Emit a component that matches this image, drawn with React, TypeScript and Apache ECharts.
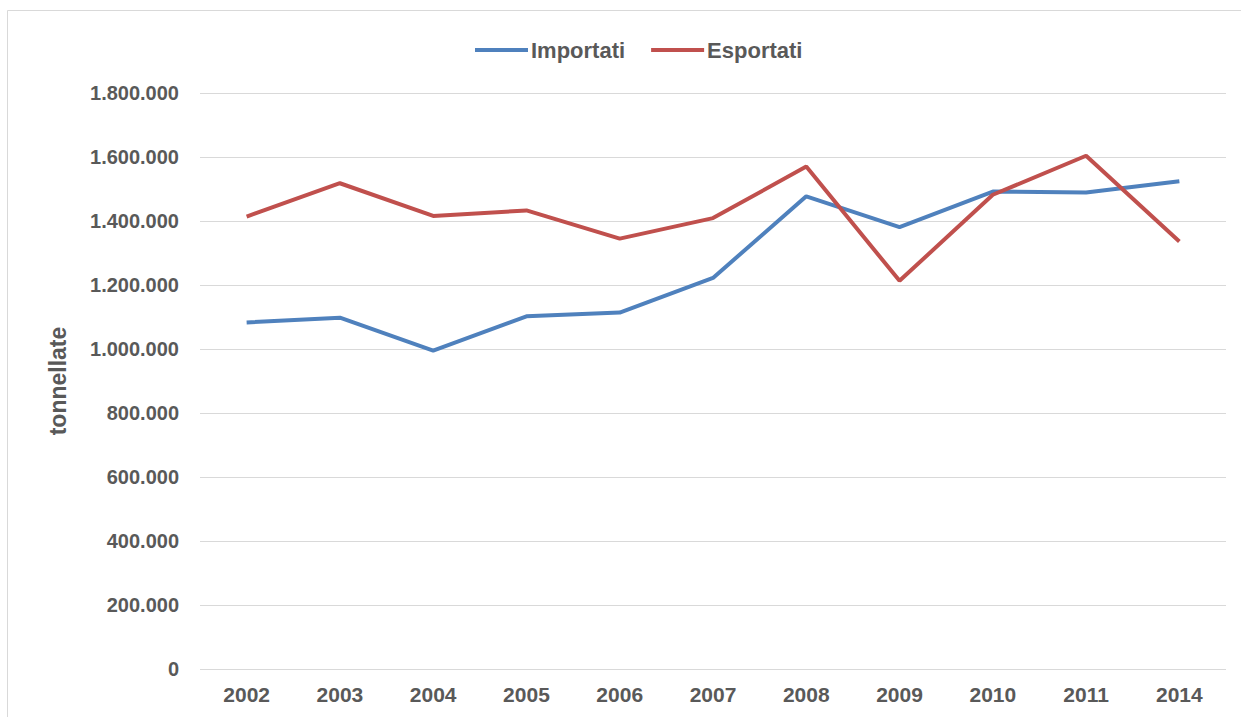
import React, { useEffect, useRef } from "react";
import * as echarts from "echarts";

const years = ["2002", "2003", "2004", "2005", "2006", "2007", "2008", "2009", "2010", "2011", "2014"];
const importati = [1083000, 1098000, 995000, 1102000, 1114000, 1222000, 1477000, 1381000, 1492000, 1489000, 1524000];
const esportati = [1414000, 1518000, 1416000, 1433000, 1345000, 1409000, 1570000, 1213000, 1482000, 1604000, 1336000];
const seriesNames = ["Importati", "Esportati"];
const yAxisName = "tonnellate";

const fmt = (v: number) => String(v).replace(/\B(?=(\d{3})+(?!\d))/g, ".");

export default function App() {
  const ref = useRef<HTMLDivElement>(null);
  useEffect(() => {
    if (!ref.current) return;
    const chart = echarts.init(ref.current, null, { renderer: "svg" });
    const font = "Liberation Sans, Arial, sans-serif";
    chart.setOption({
      animation: false,
      backgroundColor: "#ffffff",
      textStyle: { fontFamily: font },
      graphic: [
        {
          type: "rect",
          shape: { x: 7.5, y: 10.5, width: 1245, height: 720 },
          style: { fill: "none", stroke: "#d9d9d9", lineWidth: 1 },
          silent: true,
        },
      ],
      legend: {
        top: 34,
        left: 470,
        icon: "rect",
        itemWidth: 53,
        itemHeight: 4,
        itemGap: 26,
        textStyle: { fontSize: 22, fontWeight: "bold", color: "#595959", fontFamily: font, padding: [0, 0, 0, -2] },
        data: seriesNames,
      },
      grid: { left: 200, right: 15, top: 93, bottom: 48 },
      xAxis: {
        type: "category",
        data: years,
        boundaryGap: true,
        axisLine: { show: false },
        axisTick: { show: false },
        axisLabel: { fontSize: 21, fontWeight: "bold", color: "#595959", margin: 15, fontFamily: font },
      },
      yAxis: {
        type: "value",
        min: 0,
        max: 1800000,
        interval: 200000,
        name: yAxisName,
        nameLocation: "middle",
        nameGap: 131,
        nameRotate: 90,
        nameTextStyle: { fontSize: 23, fontWeight: "bold", color: "#595959", fontFamily: font },
        axisLine: { show: false },
        axisTick: { show: false },
        splitLine: { lineStyle: { color: "#d9d9d9", width: 1 } },
        axisLabel: {
          fontSize: 20,
          fontWeight: "bold",
          color: "#595959",
          margin: 21,
          fontFamily: font,
          formatter: (v: number) => fmt(v),
        },
      },
      series: [
        {
          name: seriesNames[0],
          type: "line",
          data: importati,
          symbol: "none",
          lineStyle: { color: "#4f81bd", width: 4 },
          itemStyle: { color: "#4f81bd" },
        },
        {
          name: seriesNames[1],
          type: "line",
          data: esportati,
          symbol: "none",
          lineStyle: { color: "#c0504d", width: 4 },
          itemStyle: { color: "#c0504d" },
        },
      ],
    });
    return () => chart.dispose();
  }, []);
  return <div ref={ref} style={{ position: "fixed", left: 0, top: 0, width: 1241, height: 717 }} />;
}
